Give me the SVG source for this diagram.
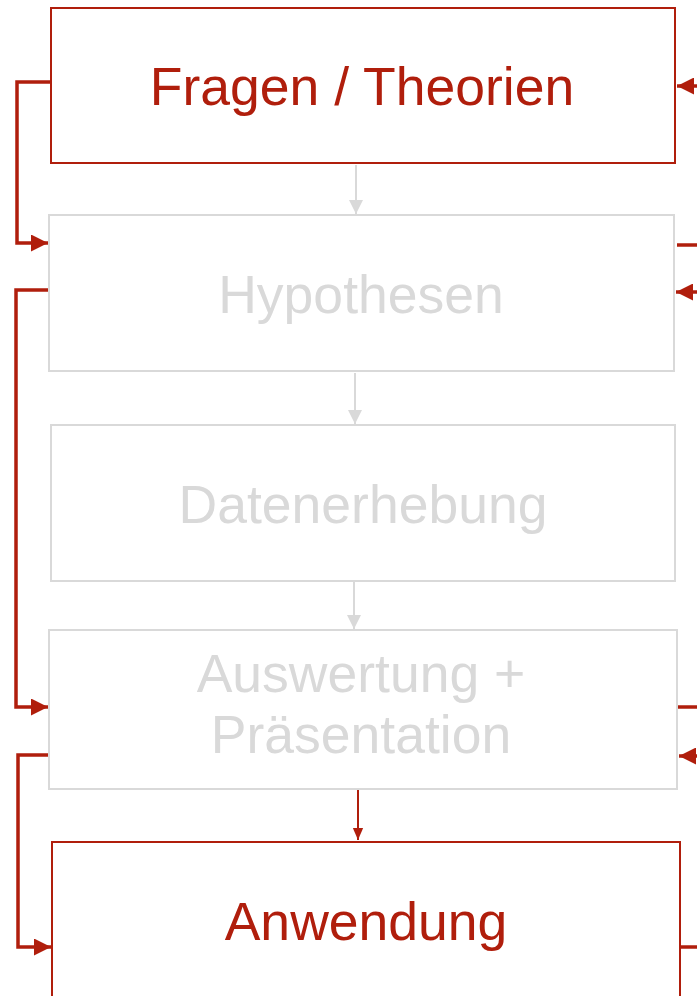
<svg xmlns="http://www.w3.org/2000/svg" width="697" height="996" viewBox="0 0 697 996">
<style>
.red{fill:#fff;stroke:#B01E0C;stroke-width:2}
.gray{fill:#fff;stroke:#D9D9D9;stroke-width:2}
.t{font-family:"Liberation Sans",Arial,sans-serif;font-size:53.5px;text-anchor:middle}
.tr{fill:#B01E0C}
.tg{fill:#D9D9D9}
.cr{fill:none;stroke:#B01E0C;stroke-width:3.5}
.cg{fill:none;stroke:#D9D9D9;stroke-width:2}
.cr2{fill:none;stroke:#B01E0C;stroke-width:2}
</style>
<defs>
<marker id="ar" markerWidth="12" markerHeight="14" refX="14" refY="6" orient="auto" markerUnits="userSpaceOnUse" viewBox="0 0 14 12"><path d="M0,0 L14,6 L0,12 z" fill="#B01E0C"/></marker>
<marker id="ab" markerWidth="17" markerHeight="17" refX="17" refY="8.5" orient="auto" markerUnits="userSpaceOnUse" viewBox="0 0 17 17"><path d="M0,0 L17,8.5 L0,17 z" fill="#B01E0C"/></marker>
<marker id="ag" markerWidth="14" markerHeight="14" refX="14" refY="7" orient="auto" markerUnits="userSpaceOnUse" viewBox="0 0 14 14"><path d="M0,0 L14,7 L0,14 z" fill="#D9D9D9"/></marker>
</defs>
<g id="n1"><rect class="red" x="51" y="8" width="624" height="155"/><text class="t tr" x="362" y="105">Fragen / Theorien</text></g>
<g id="n2"><rect class="gray" x="49" y="215" width="625" height="156"/><text class="t tg" x="361" y="313">Hypothesen</text></g>
<g id="n3"><rect class="gray" x="51" y="425" width="624" height="156"/><text class="t tg" x="363" y="523">Datenerhebung</text></g>
<g id="n4"><rect class="gray" x="49" y="630" width="628" height="159"/><text class="t tg" x="361" y="692">Auswertung +</text><text class="t tg" x="361" y="753">Präsentation</text></g>
<g id="n5"><rect class="red" x="52" y="842" width="628" height="170"/><text class="t tr" x="366" y="940">Anwendung</text></g>
<g id="connectors">
<path class="cg" d="M356,165 V214" marker-end="url(#ag)"/>
<path class="cg" d="M355,373 V424" marker-end="url(#ag)"/>
<path class="cg" d="M354,582 V629" marker-end="url(#ag)"/>
<path class="cr2" d="M358,790 V840" marker-end="url(#ar)"/>
<path class="cr" d="M50,82 H17 V243 H48" marker-end="url(#ab)"/>
<path class="cr" d="M48,290 H16 V707 H48" marker-end="url(#ab)"/>
<path class="cr" d="M48,755 H18 V947 H51" marker-end="url(#ab)"/>
<path class="cr" d="M697,86 H677" marker-end="url(#ab)"/>
<path class="cr" d="M677,245 H697"/>
<path class="cr" d="M697,292 H676" marker-end="url(#ab)"/>
<path class="cr" d="M678,707 H697"/>
<path class="cr" d="M697,756 H679" marker-end="url(#ab)"/>
<path class="cr" d="M681,947 H697"/>
</g>
</svg>
